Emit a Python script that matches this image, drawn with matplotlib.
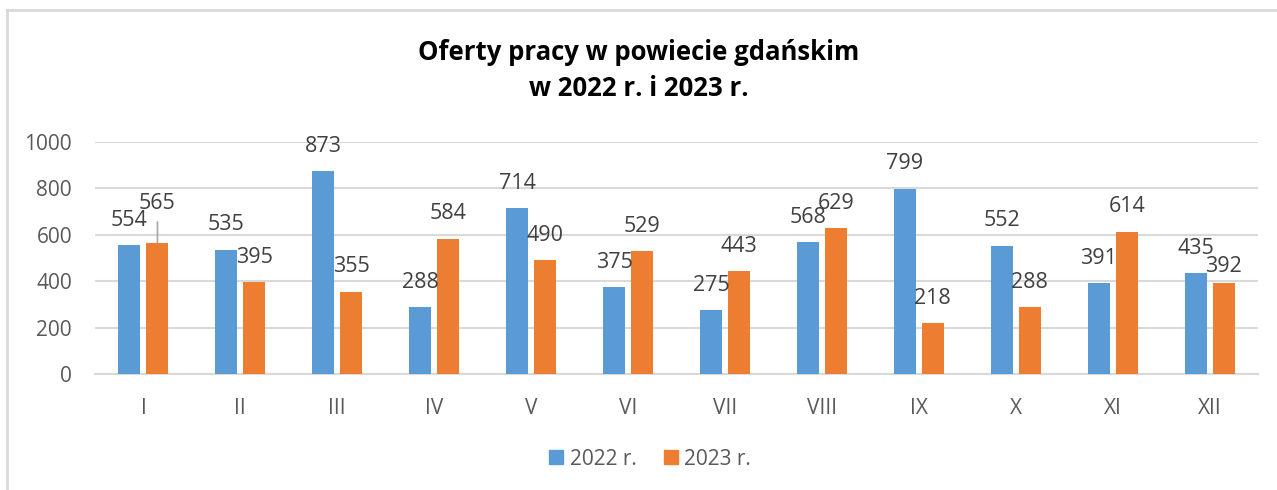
import matplotlib.pyplot as plt
import matplotlib.lines as mlines
import numpy as np

plt.rcParams['font.family'] = ['Open Sans', 'DejaVu Sans']

# Data
months = ['I', 'II', 'III', 'IV', 'V', 'VI', 'VII', 'VIII', 'IX', 'X', 'XI', 'XII']
offers_2022 = [554, 535, 873, 288, 714, 375, 275, 568, 799, 552, 391, 435]
offers_2023 = [565, 395, 355, 584, 490, 529, 443, 629, 218, 288, 614, 392]
series_names = ['2022 r.', '2023 r.']

blue = '#5B9BD5'
orange = '#ED7D31'
grid_col = '#D9D9D9'
text_col = '#595959'
label_col = '#404040'

fig = plt.figure(figsize=(12.77, 4.9), dpi=100)
ax = fig.add_axes([95 / 1277, 1 - 374 / 490, (1258 - 95) / 1277, (374 - 142) / 490])

x = np.arange(len(months))
w = 0.227
off = 0.1445
b1 = ax.bar(x - off, offers_2022, width=w, color=blue, label=series_names[0], zorder=3)
b2 = ax.bar(x + off, offers_2023, width=w, color=orange, label=series_names[1], zorder=3)

ax.set_xlim(-0.5, len(months) - 0.5)
ax.set_ylim(0, 1000)
ax.set_yticks(range(0, 1001, 200))
ax.set_xticks(x)
ax.set_xticklabels(months)
ax.yaxis.grid(True, color=grid_col, linewidth=1.5, zorder=0)
for s in ['top', 'right', 'left']:
    ax.spines[s].set_visible(False)
ax.spines['bottom'].set_color(grid_col)
ax.spines['bottom'].set_linewidth(1.5)
ax.tick_params(axis='both', length=0, labelsize=15, colors=text_col)
ax.tick_params(axis='x', pad=17)
ax.tick_params(axis='y', pad=16.5)

# Data labels (pixel offset above bar top; a few were nudged in the original)
for i, (bars, vals) in enumerate([(b1, offers_2022), (b2, offers_2023)]):
    for j, (bar, v) in enumerate(zip(bars, vals)):
        cx = bar.get_x() + bar.get_width() / 2
        dy = 25
        if i == 1 and j == 0:
            dy = 39
        if i == 1 and j == 11:
            dy = 17
        ax.annotate(str(v), (cx, v), xytext=(0, dy), textcoords='offset pixels',
                    ha='center', va='center', fontsize=15.5, color=label_col,
                    annotation_clip=False, zorder=4)

# leader line for the shifted 565 label
ax.annotate('', (0 + off, offers_2023[0]), xytext=(0, 21), textcoords='offset pixels',
            arrowprops=dict(arrowstyle='-', color='#A6A6A6', lw=1.2,
                            shrinkA=0, shrinkB=0))

# Title
fig.text(0.5, 1 - 52 / 490, 'Oferty pracy w powiecie gdańskim', ha='center', va='center',
         fontsize=18.5, fontweight='bold', color='black')
fig.text(0.5, 1 - 89 / 490, 'w 2022 r. i 2023 r.', ha='center', va='center',
         fontsize=18.5, fontweight='bold', color='black')

# Legend
h1 = mlines.Line2D([], [], marker='s', color=blue, linestyle='None', markersize=10)
h2 = mlines.Line2D([], [], marker='s', color=orange, linestyle='None', markersize=10)
fig.legend([h1, h2], series_names, loc='center', bbox_to_anchor=(650 / 1277, 1 - 459 / 490),
           ncol=2, frameon=False, fontsize=15, labelcolor=text_col,
           handlelength=0.7, handletextpad=0.3, columnspacing=1.3)

# chart border (top and left visible)
fig.add_artist(mlines.Line2D([7 / 1277, 1.0], [1 - 10 / 490, 1 - 10 / 490],
                             color=grid_col, linewidth=2, transform=fig.transFigure))
fig.add_artist(mlines.Line2D([7 / 1277, 7 / 1277], [0, 1 - 10 / 490],
                             color=grid_col, linewidth=2, transform=fig.transFigure))

fig.savefig('out.png', dpi=100)
